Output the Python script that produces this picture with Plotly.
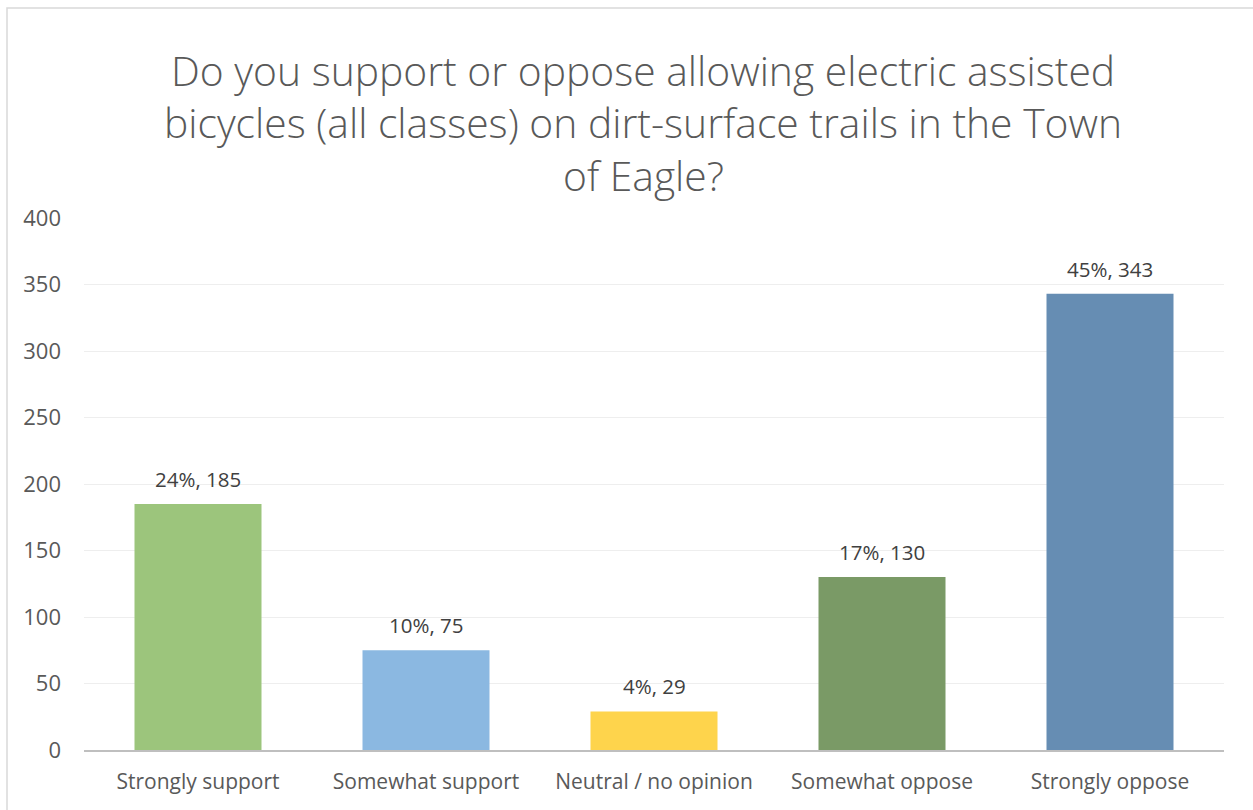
import plotly.graph_objects as go

categories = ["Strongly support", "Somewhat support", "Neutral / no opinion", "Somewhat oppose", "Strongly oppose"]
counts = [185, 75, 29, 130, 343]
percents = ["24%", "10%", "4%", "17%", "45%"]
colors = ["#9CC57C", "#8BB8E1", "#FED44C", "#7A9A66", "#668DB3"]
title_lines = [
    "Do you support or oppose allowing electric assisted",
    "bicycles (all classes) on dirt-surface trails in the Town",
    "of Eagle?",
]
y_ticks = [0, 50, 100, 150, 200, 250, 300, 350, 400]

FONT = "Open Sans"

fig = go.Figure()
fig.add_trace(go.Bar(
    x=categories, y=counts,
    marker=dict(color=colors, line=dict(width=0)),
    width=0.557,
    hoverinfo="skip",
))

# data labels
for c, v, p in zip(categories, counts, percents):
    fig.add_annotation(
        x=c, y=v, text=f"{p}, {v}", showarrow=False,
        yshift=25, font=dict(family=FONT, size=20.5, color="#404040"),
        xref="x", yref="y",
    )

# title lines
title_y_px = [70, 122, 175]
for line, ypx in zip(title_lines, title_y_px):
    fig.add_annotation(
        x=(643 - 84) / 1140, y=(750 - ypx) / 532, xref="paper", yref="paper",
        text=line, showarrow=False, xanchor="center", yanchor="middle",
        font=dict(family=FONT, size=40.8, color="#595959", weight=300),
    )

# outer border
fig.add_shape(type="rect", xref="paper", yref="paper",
              x0=(7 - 84) / 1140, y0=-0.3, x1=1.2, y1=(750 - 8) / 532,
              line=dict(color="#D9D9D9", width=1.5), layer="below")

fig.update_layout(
    width=1253, height=810,
    margin=dict(l=84, r=29, t=218, b=60, pad=0),
    paper_bgcolor="white", plot_bgcolor="white",
    showlegend=False,
    font=dict(family=FONT, color="#595959"),
    bargap=0.443,
)
fig.update_xaxes(
    showgrid=False, showline=True, linecolor="#BFBFBF", linewidth=2,
    ticks="", ticklabelstandoff=12, tickfont=dict(family=FONT, size=21, color="#595959"),
    fixedrange=True,
)
fig.update_yaxes(
    range=[0, 400], tickvals=y_ticks, showgrid=True, gridcolor="#EEEEEE", gridwidth=1,
    zeroline=False, showline=False, ticks="", ticklabelstandoff=22,
    tickfont=dict(family=FONT, size=22, color="#595959"),
    fixedrange=True,
)

fig.write_html("out.html")
